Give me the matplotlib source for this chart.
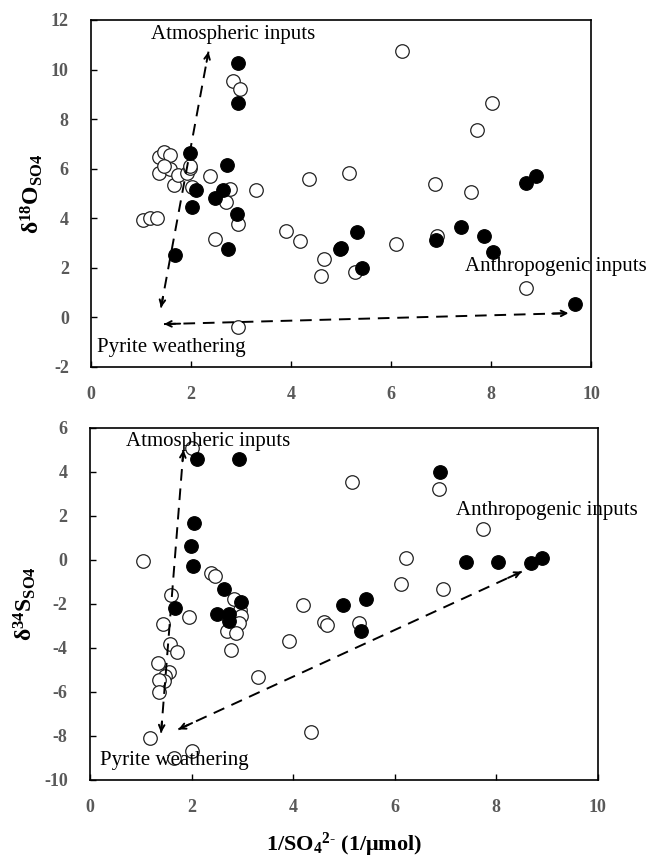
import numpy as np
import matplotlib
matplotlib.use("Agg")
import matplotlib.pyplot as plt

plt.rcParams['font.family'] = ['Liberation Serif', 'DejaVu Serif']
plt.rcParams['mathtext.fontset'] = 'custom'
plt.rcParams['mathtext.rm'] = 'Liberation Serif'
plt.rcParams['mathtext.it'] = 'Liberation Serif:italic'
plt.rcParams['mathtext.bf'] = 'Liberation Serif:bold'
plt.rcParams['axes.unicode_minus'] = False

# --- top panel: d18O vs 1/SO4 ---
o_open_x = [1.35, 1.46, 1.57, 1.35, 1.57, 1.65, 1.73, 1.91, 1.98, 1.98, 2.01,
            2.37, 2.77, 2.70, 2.93, 3.31, 4.36, 1.03, 1.18, 1.31, 2.47, 3.90,
            4.18, 4.67, 4.60, 2.93, 2.83, 2.97, 6.23, 8.03, 7.73, 5.16, 6.88,
            7.61, 5.29, 6.11, 6.93, 8.71, 1.45]
o_open_y = [6.49, 6.69, 6.56, 5.84, 5.98, 5.35, 5.75, 5.82, 6.02, 6.09, 5.28,
            5.71, 5.17, 4.65, 3.77, 5.15, 5.58, 3.94, 4.00, 4.00, 3.17, 3.49,
            3.09, 2.36, 1.65, -0.37, 9.54, 9.21, 10.75, 8.64, 7.56, 5.84, 5.39,
            5.04, 1.85, 2.96, 3.30, 1.18, 6.10]
o_fill_x = [2.93, 2.93, 1.98, 2.72, 2.10, 2.01, 2.48, 2.63, 2.91, 2.73, 1.67,
            4.98, 5.33, 5.00, 5.43, 6.90, 7.40, 7.87, 8.05, 8.70, 8.90, 9.68]
o_fill_y = [10.25, 8.64, 6.62, 6.13, 5.12, 4.45, 4.81, 5.12, 4.17, 2.75, 2.50,
            2.75, 3.46, 2.79, 1.99, 3.13, 3.63, 3.29, 2.63, 5.44, 5.71, 0.54]

# --- bottom panel: d34S vs 1/SO4 ---
s_open_x = [2.00, 1.05, 2.38, 2.47, 2.83, 2.95, 2.98, 2.94, 2.70, 2.87, 2.77,
            1.59, 1.94, 1.43, 1.58, 1.71, 1.33, 1.56, 1.48, 1.46, 1.36, 1.36,
            3.31, 1.19, 4.36, 2.01, 1.65, 4.19, 3.91, 4.61, 4.66, 5.16, 6.87,
            7.73, 6.23, 6.12, 6.94, 5.30]
s_open_y = [5.08, -0.03, -0.61, -0.73, -1.77, -2.27, -2.55, -2.88, -3.21, -3.30,
            -4.09, -1.59, -2.61, -2.91, -3.83, -4.17, -4.67, -5.11, -5.27, -5.49,
            -5.45, -6.01, -5.30, -8.08, -7.80, -8.68, -8.98, -2.05, -3.68, -2.80,
            -2.95, 3.53, 3.23, 1.41, 0.11, -1.10, -1.32, -2.88]
s_fill_x = [2.10, 2.94, 2.05, 1.99, 2.02, 2.64, 2.97, 2.50, 2.73, 2.74, 1.67,
            4.98, 5.43, 5.33, 6.89, 7.40, 8.04, 8.68, 8.90]
s_fill_y = [4.59, 4.59, 1.67, 0.64, -0.27, -1.32, -1.90, -2.44, -2.44, -2.76,
            -2.17, -2.05, -1.77, -3.23, 3.99, -0.11, -0.08, -0.12, 0.11]

# arrows (start, end) and labels
o_arrows = [((1.40, 0.40), (2.35, 10.72)), ((1.46, -0.27), (9.55, 0.17))]
s_arrows = [((1.40, -7.85), (1.84, 5.00)), ((1.74, -7.70), (8.50, -0.53))]
o_labels = [("Atmospheric inputs", 2.85, 11.4), ("Anthropogenic inputs", 9.3, 2.05),
            ("Pyrite weathering", 1.61, -1.2)]
s_labels = [("Atmospheric inputs", 2.33, 5.38), ("Anthropogenic inputs", 9.0, 2.27),
            ("Pyrite weathering", 1.67, -9.1)]

fig = plt.figure(figsize=(6.51, 8.59), dpi=100)
ax1 = fig.add_axes([0.1398, 0.5728, 0.768, 0.4040])
ax2 = fig.add_axes([0.1382, 0.0920, 0.7803, 0.4098])


def style_axis(ax, ylim, yticks):
    ax.set_xlim(0, 10)
    ax.set_ylim(*ylim)
    ax.set_xticks(range(0, 11, 2))
    ax.set_yticks(yticks)
    ax.tick_params(direction='in', length=4, width=1, top=False, right=False,
                   labelsize=13, labelcolor='#595959')
    ax.tick_params(axis='x', pad=14)
    ax.tick_params(axis='y', pad=16)
    for lab in ax.get_xticklabels() + ax.get_yticklabels():
        lab.set_fontweight('bold')
    for sp in ax.spines.values():
        sp.set_linewidth(1.2)
        sp.set_color('black')


def draw_panel(ax, ox, oy, fx, fy, arrows, labels):
    ax.scatter(ox, oy, s=95, facecolors='white', edgecolors='#222222',
               linewidths=0.9, zorder=3)
    ax.scatter(fx, fy, s=95, facecolors='black', edgecolors='black',
               linewidths=0.9, zorder=4)
    for (a, b) in arrows:
        ax.plot([a[0], b[0]], [a[1], b[1]], color='black', lw=1.4,
                ls=(0, (6, 4)), zorder=5)
        ax.annotate('', xy=a, xytext=(a[0] + (b[0] - a[0]) * 0.04, a[1] + (b[1] - a[1]) * 0.04),
                    arrowprops=dict(arrowstyle='->', lw=1.4, color='black',
                                    shrinkA=0, shrinkB=0), zorder=5)
        ax.annotate('', xy=b, xytext=(b[0] - (b[0] - a[0]) * 0.04, b[1] - (b[1] - a[1]) * 0.04),
                    arrowprops=dict(arrowstyle='->', lw=1.4, color='black',
                                    shrinkA=0, shrinkB=0), zorder=5)
    for txt, tx, ty in labels:
        ax.text(tx, ty, txt, ha='center', va='center', fontsize=15,
                color='black', zorder=6, clip_on=False)


style_axis(ax1, (-2, 12), range(-2, 13, 2))
style_axis(ax2, (-10, 6), range(-10, 7, 2))
draw_panel(ax1, o_open_x, o_open_y, o_fill_x, o_fill_y, o_arrows, o_labels)
draw_panel(ax2, s_open_x, s_open_y, s_fill_x, s_fill_y, s_arrows, s_labels)

ax1.set_ylabel(r'$\mathbf{\delta^{18}O_{SO4}}$', fontsize=17, labelpad=4)
ax2.set_ylabel(r'$\mathbf{\delta^{34}S_{SO4}}$', fontsize=17, labelpad=4)
ax2.set_xlabel(r'$\mathbf{1/SO_4{}^{2\text{-}}}$ (1/μmol)', fontsize=16,
               fontweight='bold', labelpad=10)

fig.savefig('out.png', dpi=100)
